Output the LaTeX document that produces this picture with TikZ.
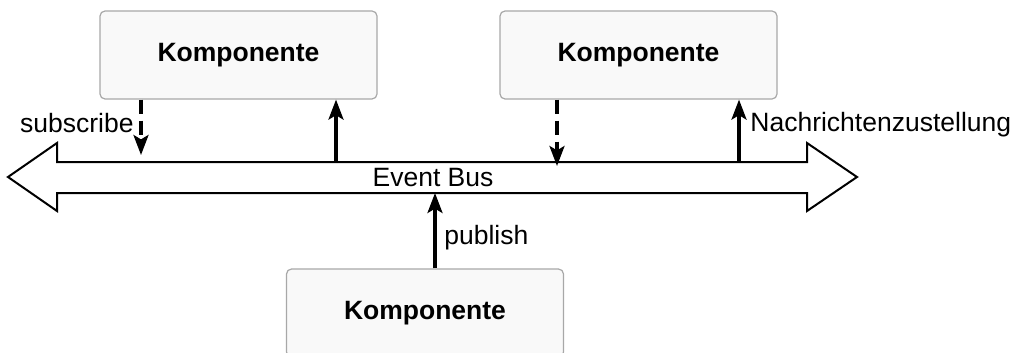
\documentclass[tikz,border=0pt]{standalone}
\usepackage{fontspec}
\setmainfont{Liberation Sans}
\usetikzlibrary{arrows.meta}

\definecolor{boxfill}{HTML}{F9F9F9}
\definecolor{boxline}{HTML}{A8A8A8}

\tikzset{
  komp/.style={draw=boxline, fill=boxfill, line width=0.6pt, rounded corners=2.5pt,
    minimum width=138.5pt, minimum height=44pt, font=\fontsize{13.25pt}{16pt}\selectfont\bfseries},
  msg/.style={line width=1.6pt, -{Stealth[length=10pt,width=7.5pt,inset=2.2pt]}},
  sub/.style={msg, dash pattern=on 7pt off 3.5pt},
  lbl/.style={inner sep=0pt}
}

\begin{document}
\begin{tikzpicture}[x=0.5pt,y=-0.5pt,font=\fontsize{13.25pt}{16pt}\selectfont]
			\clip (0,0) rectangle (1017,353);
			
			% der Bus
			\draw[line width=1pt, fill=white] (8,177) -- (57,143) -- (57,162) -- (807,162) -- (807,143)
			  -- (857,177) -- (807,211) -- (807,193) -- (57,193) -- (57,211) -- cycle;
			\node[lbl] (bus) at (433,177.5) {Event Bus};
			
			\node[komp] (k1) at (238.5,55) {Komponente};
			\node[komp] (k2) at (638.5,55) {Komponente};
			\node[komp] (k3) at (425,313) {Komponente};
			
			\coordinate (s1) at (141,155);
			\coordinate (d1) at (336,162);
			\coordinate (s2) at (557,166);
			\coordinate (d2) at (739,162);
			\coordinate (p1) at (435,193);
			
			\draw[sub] (k1.south -| s1) -- (s1);
			\draw[msg] (d1) -- (d1 |- k1.south);
			\draw[sub] (k2.south -| s2) -- (s2);
			\draw[msg] (d2) -- (d2 |- k2.south);
			\draw[msg] (k3.north -| p1) -- (p1);
			
			\node[lbl, anchor=base east] (subl) at (134,133) {subscribe};
			\node[lbl, anchor=base west] (nzl) at (750,132) {Nachrichtenzustellung};
			\node[lbl, anchor=base west] (publ) at (444,244) {publish};
		  \end{tikzpicture}
\end{document}
